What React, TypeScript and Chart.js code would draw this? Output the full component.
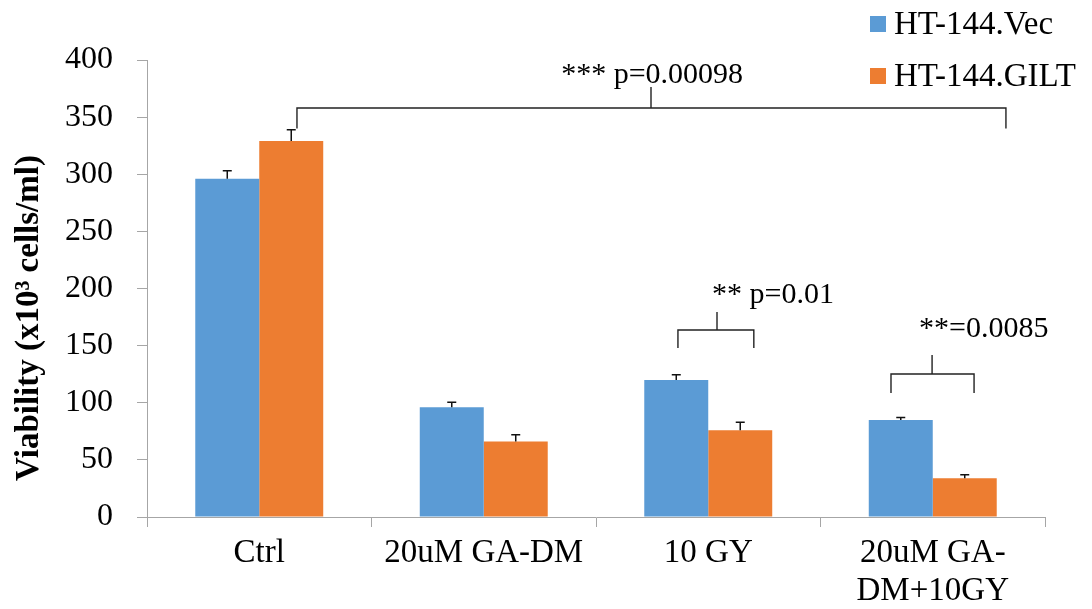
import { useEffect, useRef } from "react";
import { Chart, registerables } from "chart.js";

Chart.register(...registerables);

// ---- data ----
const categories: (string | string[])[] = ["Ctrl", "20uM GA-DM", "10 GY", ["20uM GA-", "DM+10GY"]];
const seriesNames = ["HT-144.Vec", "HT-144.GILT"];
const vecValues = [296, 96, 120, 85];
const giltValues = [329, 66, 76, 34];
const vecErrors = [7, 4.5, 4.5, 2];
const giltErrors = [10, 6, 7, 3];
const yMin = 0;
const yMax = 400;
const yStep = 50;
const yTitle = "Viability (x10\u00B3 cells/ml)";

// significance brackets, in category-index / value units
const bracketLabels = ["*** p=0.00098", "** p=0.01", "**=0.0085"];
const bracketFrom = [0.168, 1.865, 2.814];
const bracketTo = [3.326, 2.203, 3.184];
const bracketMid = [1.745, 2.039, 2.997];
const bracketLevel = [358, 163.7, 125.2];
const bracketLegEnd = [340, 148, 108.5];
const bracketTop = [376.4, 179.4, 141.8];
const labelX = [1.75, 2.017, 2.939];
const labelY = [380, 187, 157.5];
const labelAlign: CanvasTextAlign[] = ["center", "left", "left"];

const colors = ["#5B9BD5", "#ED7D31"];
const serif = "'Liberation Serif', 'Times New Roman', serif";
const axisGray = "#A6A6A6";

const errorBarPlugin = {
  id: "errorBars",
  afterDatasetsDraw(chart: any) {
    const ctx = chart.ctx;
    const y = chart.scales.y;
    const errs = [vecErrors, giltErrors];
    ctx.save();
    ctx.strokeStyle = "#111";
    ctx.lineWidth = 1.5;
    chart.data.datasets.forEach((ds: any, di: number) => {
      const meta = chart.getDatasetMeta(di);
      meta.data.forEach((bar: any, i: number) => {
        const v = ds.data[i];
        const top = y.getPixelForValue(v);
        const cap = y.getPixelForValue(v + errs[di][i]);
        ctx.beginPath();
        ctx.moveTo(bar.x, top);
        ctx.lineTo(bar.x, cap);
        ctx.moveTo(bar.x - 4.5, cap);
        ctx.lineTo(bar.x + 4.5, cap);
        ctx.stroke();
      });
    });
    ctx.restore();
  },
};

const bracketPlugin = {
  id: "brackets",
  afterDraw(chart: any) {
    const ctx = chart.ctx;
    const xs = chart.scales.x;
    const ys = chart.scales.y;
    ctx.save();
    ctx.strokeStyle = "#222";
    ctx.lineWidth = 1.4;
    ctx.fillStyle = "#000";
    ctx.font = `30px ${serif}`;
    ctx.textBaseline = "alphabetic";
    bracketLabels.forEach((label, i) => {
      const x1 = xs.getPixelForValue(bracketFrom[i]);
      const x2 = xs.getPixelForValue(bracketTo[i]);
      const xm = xs.getPixelForValue(bracketMid[i]);
      const yl = ys.getPixelForValue(bracketLevel[i]);
      const yb = ys.getPixelForValue(bracketLegEnd[i]);
      const yt = ys.getPixelForValue(bracketTop[i]);
      ctx.beginPath();
      ctx.moveTo(x1, yb);
      ctx.lineTo(x1, yl);
      ctx.lineTo(x2, yl);
      ctx.lineTo(x2, yb);
      ctx.moveTo(xm, yl);
      ctx.lineTo(xm, yt);
      ctx.stroke();
      ctx.textAlign = labelAlign[i];
      ctx.fillText(label, xs.getPixelForValue(labelX[i]), ys.getPixelForValue(labelY[i]));
    });
    ctx.restore();
  },
};

const sideLegendPlugin = {
  id: "sideLegend",
  afterDraw(chart: any) {
    const ctx = chart.ctx;
    ctx.save();
    ctx.font = `33px ${serif}`;
    ctx.textBaseline = "middle";
    ctx.textAlign = "left";
    chart.data.datasets.forEach((ds: any, i: number) => {
      const cy = 24 + i * 52;
      ctx.fillStyle = ds.backgroundColor;
      ctx.fillRect(870, cy - 8, 16, 16);
      ctx.fillStyle = "#000";
      ctx.fillText(ds.label, 894, cy + 1);
    });
    ctx.restore();
  },
};

const yTitlePlugin = {
  id: "yTitle",
  afterDraw(chart: any) {
    const ctx = chart.ctx;
    ctx.save();
    ctx.translate(29, 318);
    ctx.rotate(-Math.PI / 2);
    ctx.font = `bold 33px ${serif}`;
    ctx.fillStyle = "#000";
    ctx.textAlign = "center";
    ctx.textBaseline = "middle";
    ctx.fillText(yTitle, 0, 0);
    ctx.restore();
  },
};

export default function App() {
  const canvasRef = useRef<HTMLCanvasElement | null>(null);

  useEffect(() => {
    if (!canvasRef.current) return;
    const chart = new Chart(canvasRef.current, {
      type: "bar",
      data: {
        labels: categories as any,
        datasets: [
          { label: seriesNames[0], data: vecValues, backgroundColor: colors[0], categoryPercentage: 0.57, barPercentage: 1.0 },
          { label: seriesNames[1], data: giltValues, backgroundColor: colors[1], categoryPercentage: 0.57, barPercentage: 1.0 },
        ],
      },
      options: {
        animation: false,
        responsive: true,
        maintainAspectRatio: false,
        layout: { padding: { top: 60, right: 47, bottom: 0, left: 0 } },
        plugins: {
          legend: { display: false },
          tooltip: { enabled: false },
          title: { display: false },
        },
        scales: {
          x: {
            grid: { display: true, drawOnChartArea: false, offset: true, tickLength: 10, color: axisGray },
            border: { display: true, color: axisGray, width: 1 },
            ticks: { color: "#000", font: { family: serif, size: 33, lineHeight: 1.15 }, padding: 7, maxRotation: 0, autoSkip: false },
            afterFit(scale: any) {
              scale.height = 92;
            },
          },
          y: {
            min: yMin,
            max: yMax,
            grid: { display: true, drawOnChartArea: false, tickLength: 10, color: axisGray },
            border: { display: true, color: axisGray, width: 1 },
            ticks: { stepSize: yStep, color: "#000", font: { family: serif, size: 32 }, padding: 24 },
            afterFit(scale: any) {
              scale.width = 147;
            },
          },
        },
      },
      plugins: [errorBarPlugin, bracketPlugin, sideLegendPlugin, yTitlePlugin],
    });
    return () => chart.destroy();
  }, []);

  return (
    <div style={{ position: "absolute", left: 0, top: 0, width: 1092, height: 609, background: "#fff" }}>
      <canvas ref={canvasRef} />
    </div>
  );
}
